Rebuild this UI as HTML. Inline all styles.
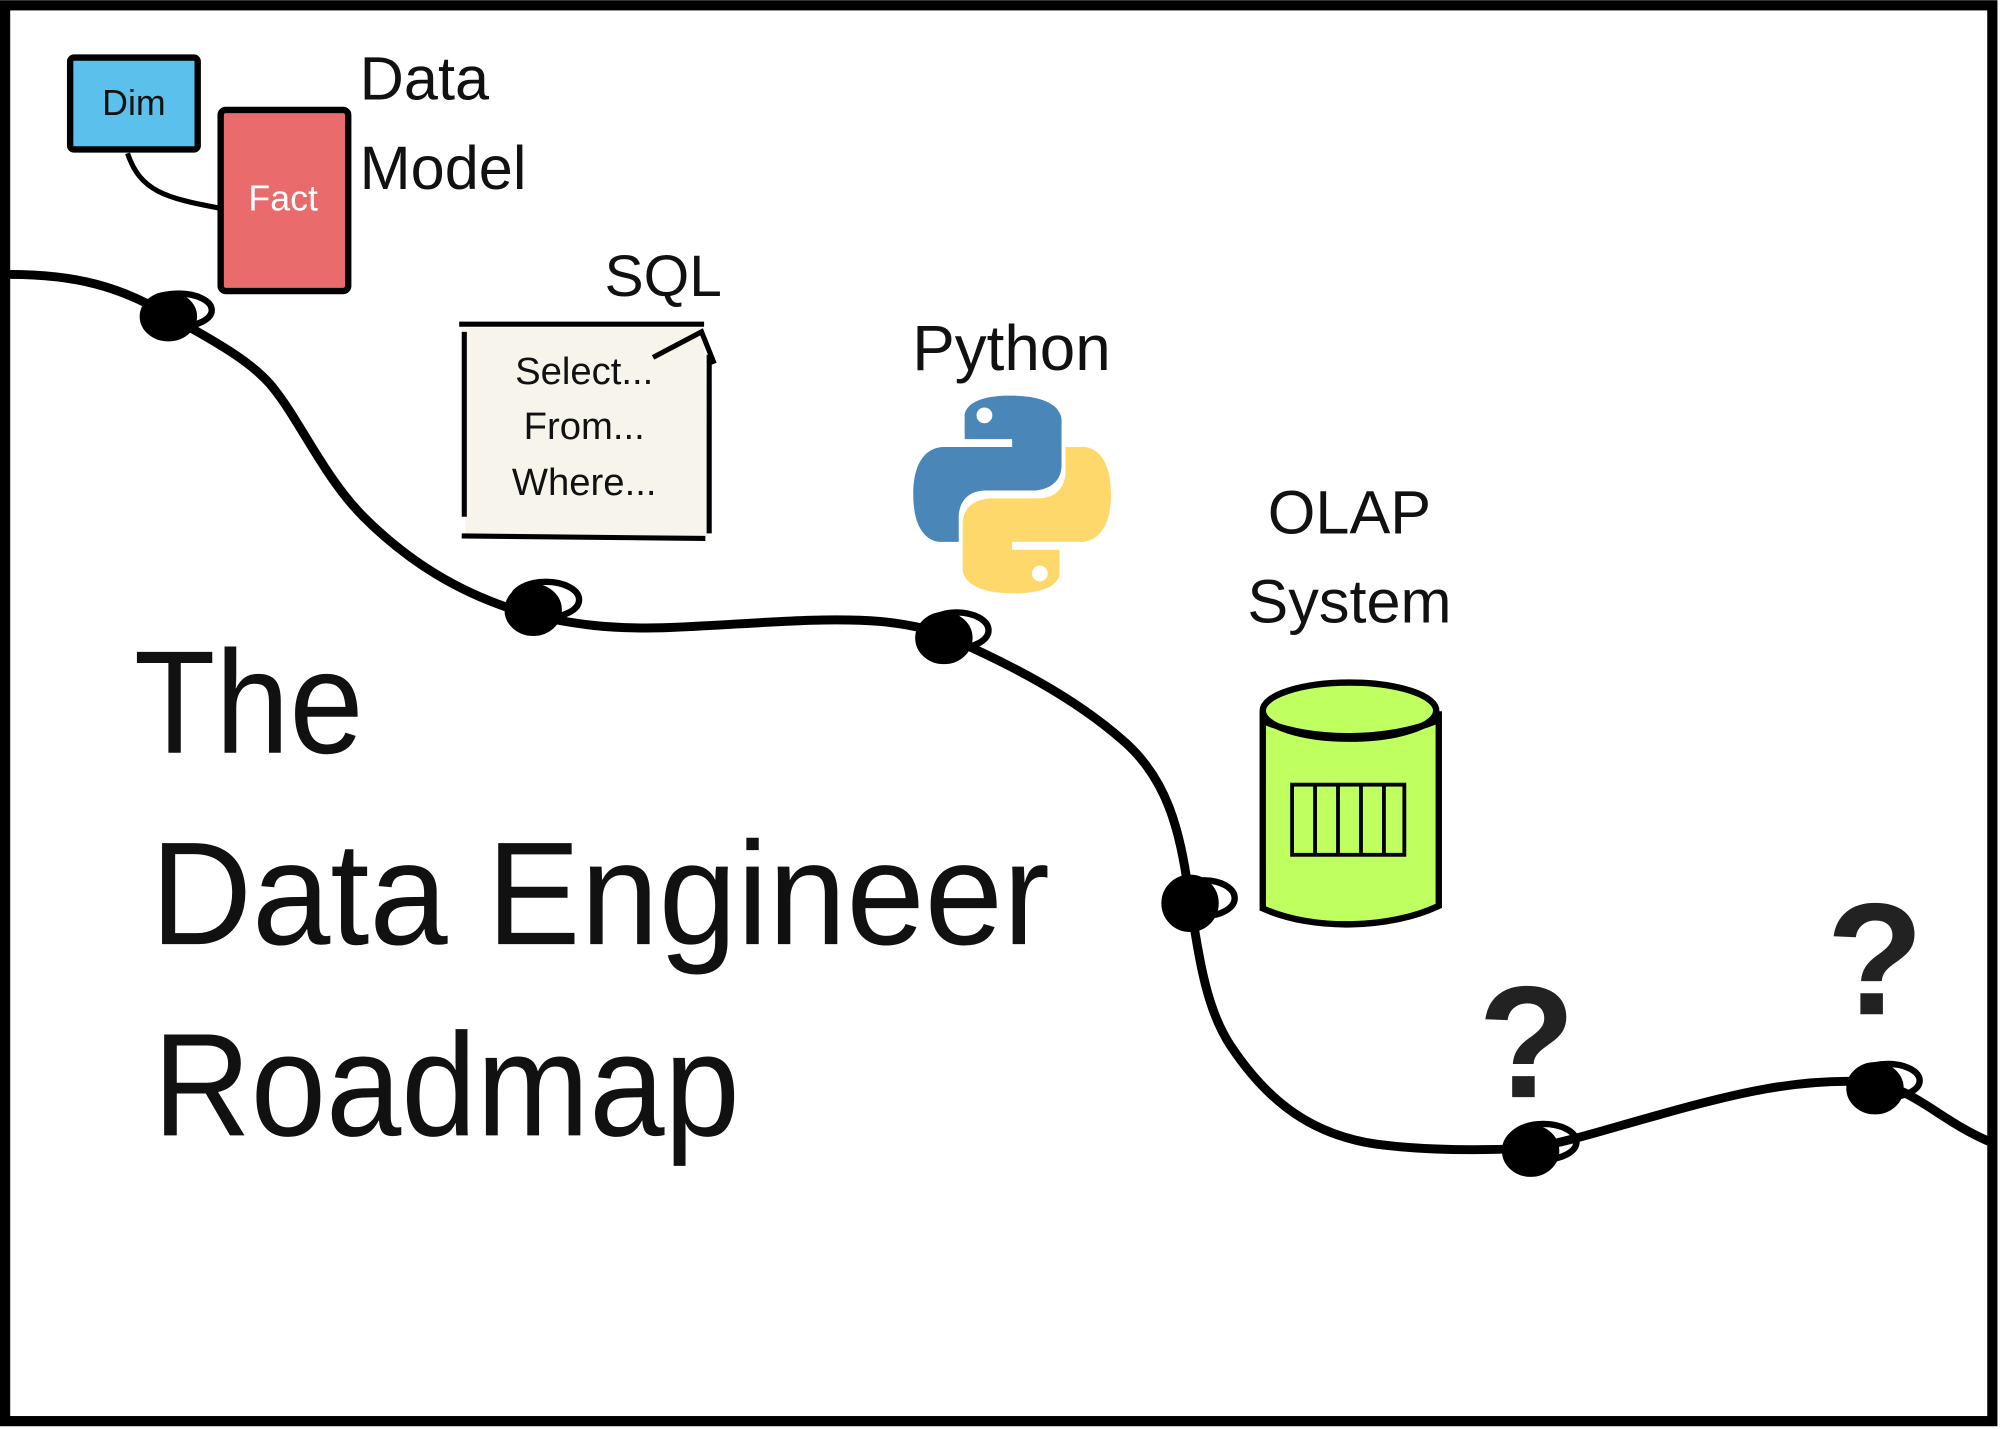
<!DOCTYPE html>
<html><head><meta charset="utf-8"><style>
html,body{margin:0;padding:0;background:#fff;}
svg{display:block;}
text{font-family:"Liberation Sans",sans-serif;fill:#111;}
</style></head><body>
<svg width="2000" height="1429" viewBox="0 0 1568 1120" xmlns="http://www.w3.org/2000/svg">
<rect x="0" y="0" width="1568" height="1120" fill="#fff"/>
<rect x="4" y="4" width="1558" height="1110" fill="none" stroke="#000" stroke-width="8"/>

<!-- road -->
<path d="M8,215 C60,215 95,225 130,246 C170,268 200,285 215,305 C235,330 255,375 285,405 C320,440 360,465 410,480 C450,490 480,493 520,492 C580,490 640,483 690,487 C720,490 735,495 745,500 C790,520 840,545 880,580 C915,610 925,650 932,700 C940,750 945,790 965,820 C995,865 1030,890 1080,897 C1120,902 1160,902 1200,900 C1230,895 1260,885 1300,874 C1360,857 1410,845 1465,848 C1500,852 1520,878 1560,895" fill="none" stroke="#000" stroke-width="7" stroke-linecap="round"/>

<!-- knots -->
<g fill="#000" stroke="#000" stroke-width="5">
<ellipse cx="132" cy="248" rx="20" ry="17"/><ellipse cx="140" cy="243" rx="26" ry="13" fill="none"/>
<ellipse cx="418" cy="478" rx="20" ry="18"/><ellipse cx="428" cy="470" rx="26" ry="14" fill="none"/>
<ellipse cx="740" cy="500" rx="20" ry="18"/><ellipse cx="750" cy="494" rx="25" ry="14" fill="none"/>
<ellipse cx="933" cy="708" rx="20" ry="20"/><ellipse cx="944" cy="704" rx="24" ry="14" fill="none"/>
<ellipse cx="1200" cy="902" rx="20" ry="18"/><ellipse cx="1210" cy="895" rx="26" ry="14" fill="none"/>
<ellipse cx="1470" cy="853" rx="20" ry="18"/><ellipse cx="1480" cy="847" rx="25" ry="13" fill="none"/>
</g>

<!-- Data model -->
<path d="M100,120 C110,150 130,155 172,163" fill="none" stroke="#000" stroke-width="4"/>
<rect x="55" y="45" width="100" height="72" fill="#5bc0eb" stroke="#000" stroke-width="5" rx="3"/>
<text x="105" y="90" font-size="28" text-anchor="middle">Dim</text>
<rect x="173" y="86" width="100" height="142" fill="#e96b6b" stroke="#000" stroke-width="5" rx="4"/>
<text x="222" y="165" font-size="28" text-anchor="middle" style="fill:#fff">Fact</text>
<text x="282" y="78" font-size="48">Data</text>
<text x="282" y="148" font-size="48">Model</text>

<!-- SQL -->
<text x="520" y="232" font-size="46" text-anchor="middle">SQL</text>
<path d="M362,257 L552,257 L556,420 L365,420 Z" fill="#f7f4ec"/>
<path d="M360,254 L552,254 M364,260 L364,405 M362,420 L553,422 M556,278 L556,418 M512,280 L550,260 L560,285" fill="none" stroke="#000" stroke-width="4"/>
<text x="458" y="301" font-size="30" text-anchor="middle">Select...</text>
<text x="458" y="344" font-size="30" text-anchor="middle">From...</text>
<text x="458" y="388" font-size="30" text-anchor="middle">Where...</text>

<!-- Python -->
<text x="793" y="290" font-size="50" text-anchor="middle">Python</text>
<g transform="translate(716,310) scale(1.55)">
<path d="M49,0 C24,0 26,11 26,11 L26,22 L50,22 L50,26 L16,26 C16,26 0,24 0,50 C0,75 14,74 14,74 L23,74 L23,62 C23,62 22,48 37,48 L61,48 C61,48 75,48 75,35 L75,13 C75,13 77,0 49,0 Z" fill="#4b86b8"/>
<circle cx="36" cy="10" r="4" fill="#fff"/>
<path d="M51,100 C76,100 74,89 74,89 L74,78 L50,78 L50,74 L84,74 C84,74 100,76 100,50 C100,25 86,26 86,26 L77,26 L77,38 C77,38 78,52 63,52 L39,52 C39,52 25,52 25,65 L25,87 C25,87 23,100 51,100 Z" fill="#ffd86b"/>
<circle cx="64" cy="90" r="4" fill="#fff"/>
</g>

<!-- OLAP -->
<text x="1058" y="418" font-size="48" text-anchor="middle">OLAP</text>
<text x="1058" y="488" font-size="48" text-anchor="middle">System</text>
<path d="M990,560 L990,712 C1030,730 1090,728 1128,710 L1128,560 Z" fill="#bfff60" stroke="#000" stroke-width="5"/>
<ellipse cx="1058" cy="557" rx="68" ry="22" fill="#bfff60" stroke="#000" stroke-width="5"/>
<path d="M990,565 C1030,582 1090,580 1126,565" fill="none" stroke="#000" stroke-width="5"/>
<g fill="none" stroke="#000" stroke-width="3">
<rect x="1013" y="615" width="88" height="55"/>
<line x1="1031" y1="615" x2="1031" y2="670"/><line x1="1049" y1="615" x2="1049" y2="670"/>
<line x1="1067" y1="615" x2="1067" y2="670"/><line x1="1085" y1="615" x2="1085" y2="670"/>
</g>

<!-- question marks -->
<text x="1197" y="860" font-size="125" font-weight="bold" text-anchor="middle" style="fill:#222">?</text>
<text x="1470" y="795" font-size="125" font-weight="bold" text-anchor="middle" style="fill:#222">?</text>

<!-- title -->
<text x="105" y="590" font-size="115" textLength="180" lengthAdjust="spacingAndGlyphs">The</text>
<text x="118" y="740" font-size="115" textLength="705" lengthAdjust="spacingAndGlyphs">Data Engineer</text>
<text x="120" y="890" font-size="115" textLength="460" lengthAdjust="spacingAndGlyphs">Roadmap</text>
</svg>
</body></html>
